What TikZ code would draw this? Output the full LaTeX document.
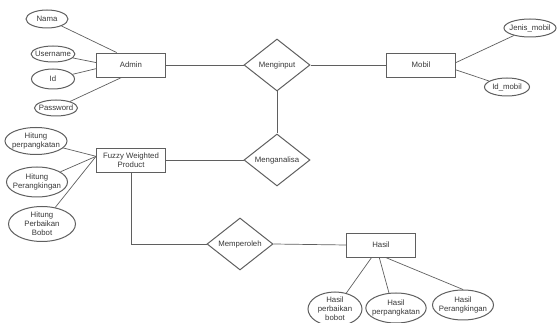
\documentclass[tikz,border=0pt]{standalone}
\usepackage{fontspec}
\setmainfont{Liberation Sans}
\usetikzlibrary{shapes.geometric}
\definecolor{lineGray}{RGB}{95, 95, 95}
\definecolor{textGray}{RGB}{55, 55, 55}

\begin{document}
\begin{tikzpicture}[x=1pt, y=-1pt,
        font=\fontsize{7.8}{9}\selectfont, text=textGray,
        entity/.style={draw=lineGray, line width=0.9pt, minimum width=69pt, minimum height=24pt, inner sep=1pt, align=center},
        attr/.style={ellipse, draw=lineGray, line width=1pt, inner sep=-2.5pt, align=center},
        rel/.style={diamond, draw=lineGray, line width=1pt, minimum width=66pt, minimum height=52pt, inner sep=0pt},
        link/.style={draw=lineGray, line width=0.7pt}]
        \useasboundingbox (0,0) rectangle (558,323);

        % entitas
        \node[entity] (admin) at (131,65) {Admin};
        \node[entity] (mobil) at (421,65) {Mobil};
        \node[entity] (fuzzy) at (131,160) {Fuzzy Weighted\\Product};
        \node[entity] (hasil) at (381,245) {Hasil};

        % relasi
        \node[rel] (menginput) at (277,65) {Menginput};
        \node[rel] (menganalisa) at (277,160) {Menganalisa};
        \node[rel] (memperoleh) at (240,244) {Memperoleh};

        % atribut admin
        \node[attr, minimum width=42pt, minimum height=18pt] (nama) at (47,19) {Nama};
        \node[attr, minimum width=43pt, minimum height=16pt] (username) at (53,54) {Username};
        \node[attr, minimum width=43pt, minimum height=20pt] (id) at (53,79) {Id};
        \node[attr, minimum width=43pt, minimum height=16pt] (password) at (56,108) {Password};

        % atribut mobil
        \node[attr, minimum width=52pt, minimum height=18pt] (jenis) at (530,28) {Jenis\_mobil};
        \node[attr, minimum width=45pt, minimum height=18pt] (idmobil) at (507,87) {Id\_mobil};

        % atribut fuzzy
        \node[attr, minimum width=62pt, minimum height=27pt] (hitung1) at (36,141) {Hitung\\perpangkatan};
        \node[attr, minimum width=60pt, minimum height=30pt] (hitung2) at (37,182) {Hitung\\Perangkingan};
        \node[attr, minimum width=67pt, minimum height=35pt] (hitung3) at (42,224) {Hitung\\Perbaikan\\Bobot};

        % atribut hasil
        \node[attr, minimum width=54pt, minimum height=34pt] (hasil1) at (335,309) {Hasil\\perbaikan\\bobot};
        \node[attr, minimum width=56pt, minimum height=30pt] (hasil2) at (396,308) {Hasil\\perpangkatan};
        \node[attr, minimum width=59pt, minimum height=30pt] (hasil3) at (463,305) {Hasil\\Perangkingan};

        % garis
        \draw[link] (admin.east) -- (menginput.west);
        \draw[link] (menginput.east) -- (mobil.west);
        \draw[link] (menginput.south) -- (menganalisa.north);
        \draw[link] (menganalisa.west) -- (fuzzy.east);
        \draw[link] (fuzzy.south) |- (memperoleh.west);
        \draw[link] (memperoleh.east) -- (hasil.west);

        \draw[link] (admin.139) -- (nama);
        \draw[link] (admin.176) -- (username);
        \draw[link] (admin.186) -- (id);
        \draw[link] (admin.233) -- (password);

        \draw[link] (mobil.4) -- (jenis);
        \draw[link] (mobil.352) -- (idmobil);

        \draw[link] (fuzzy.174) -- (hitung1);
        \draw[link] (fuzzy.174) -- (hitung2);
        \draw[link] (fuzzy.174) -- (hitung3);

        \draw[link] (hasil.233) -- (hasil1);
        \draw[link] (hasil.262) -- (hasil2.115);
        \draw[link] (hasil.290) -- (hasil3.north);
      \end{tikzpicture}
\end{document}
